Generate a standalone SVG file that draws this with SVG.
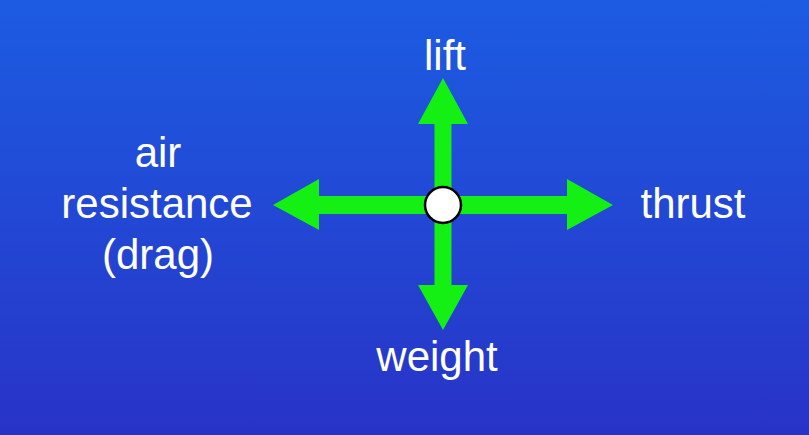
<svg xmlns="http://www.w3.org/2000/svg" width="809" height="435" viewBox="0 0 809 435">
<defs>
<linearGradient id="bg" x1="0" y1="0" x2="0" y2="1">
<stop offset="0" stop-color="#1c5ce2"/>
<stop offset="1" stop-color="#2833c6"/>
</linearGradient>
<style>
.lbl{font-family:"Liberation Sans",Arial,sans-serif;font-size:42px;fill:#ffffff;text-anchor:middle}
.arr{fill:#14f014}
</style>
</defs>
<rect width="809" height="435" fill="url(#bg)"/>
<g id="connectors">
<polygon class="arr" points="434.5,205 434.5,124 418,124 443,78 468,124 451.5,124 451.5,205"/>
<polygon class="arr" points="434.5,205 434.5,285 418,285 443,330 468,285 451.5,285 451.5,205"/>
<polygon class="arr" points="443,196 567,196 567,179 613,205 567,230 567,214 443,214"/>
<polygon class="arr" points="443,196 319,196 319,179 273,205 319,230 319,214 443,214"/>
</g>
<g id="center">
<circle cx="443" cy="205" r="18" fill="#ffffff" stroke="#000000" stroke-width="2.5"/>
</g>
<g id="lift"><text class="lbl" x="445" y="70">lift</text></g>
<g id="thrust"><text class="lbl" x="693" y="218">thrust</text></g>
<g id="weight"><text class="lbl" x="437" y="371">weight</text></g>
<g id="drag"><text class="lbl"><tspan x="158" y="167">air</tspan><tspan x="157" y="218">resistance</tspan><tspan x="158" y="269">(drag)</tspan></text></g>
</svg>
